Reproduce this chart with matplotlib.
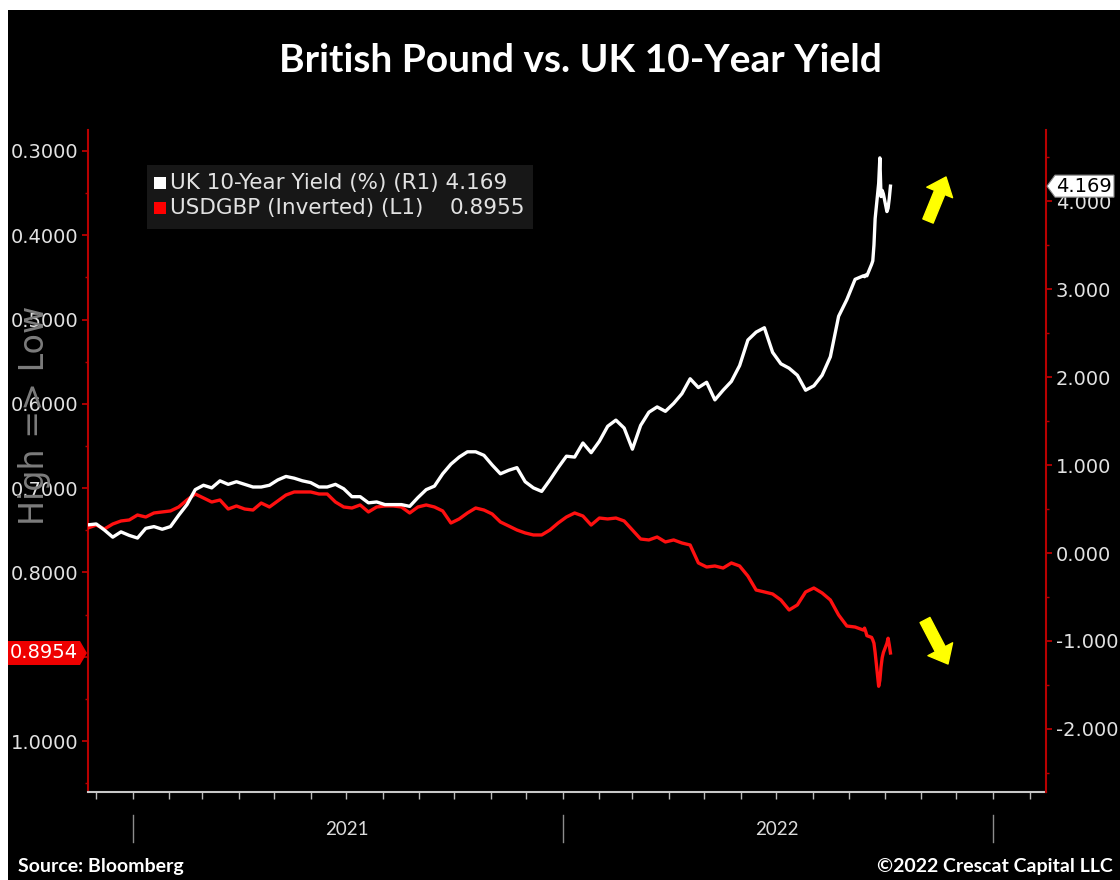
import pandas as pd
import matplotlib
matplotlib.use("Agg")
import matplotlib.pyplot as plt
import matplotlib.dates as mdates
from matplotlib.patches import Polygon, Rectangle
from matplotlib.ticker import MultipleLocator, FuncFormatter

# ---------------------------------------------------------------------------
# Data: weekly closes (Tuesdays) from late Nov 2020 to mid Sep 2022
# ---------------------------------------------------------------------------
weekly_dates = pd.date_range("2020-11-24", periods=95, freq="7D")

uk10y_weekly = [
    0.32, 0.33, 0.26, 0.18, 0.24, 0.20, 0.17, 0.28, 0.30, 0.27,
    0.30, 0.43, 0.55, 0.72, 0.77, 0.74, 0.82, 0.78, 0.81, 0.78,
    0.75, 0.75, 0.77, 0.83, 0.87, 0.85, 0.82, 0.80, 0.75, 0.75,
    0.78, 0.73, 0.64, 0.64, 0.57, 0.58, 0.55, 0.55, 0.55, 0.53,
    0.63, 0.72, 0.76, 0.90, 1.01, 1.09, 1.15, 1.15, 1.11, 1.00,
    0.90, 0.94, 0.97, 0.81, 0.74, 0.70, 0.83, 0.97, 1.10, 1.09,
    1.25, 1.14, 1.27, 1.44, 1.51, 1.42, 1.18, 1.45, 1.60, 1.66,
    1.61, 1.70, 1.81, 1.98, 1.88, 1.94, 1.74, 1.85, 1.95, 2.13,
    2.42, 2.51, 2.56, 2.28, 2.15, 2.10, 2.02, 1.85, 1.90, 2.02,
    2.23, 2.69, 2.88, 3.11, 3.15,
]

usdgbp_weekly = [
    0.7472, 0.7437, 0.7484, 0.7425, 0.7389, 0.7377, 0.7318, 0.7342, 0.7294, 0.7282,
    0.7270, 0.7223, 0.7140, 0.7069, 0.7116, 0.7164, 0.7140, 0.7247, 0.7211, 0.7247,
    0.7259, 0.7176, 0.7223, 0.7152, 0.7081, 0.7045, 0.7045, 0.7045, 0.7069, 0.7069,
    0.7164, 0.7223, 0.7235, 0.7199, 0.7282, 0.7223, 0.7211, 0.7211, 0.7223, 0.7294,
    0.7223, 0.7199, 0.7223, 0.7270, 0.7413, 0.7365, 0.7294, 0.7235, 0.7259, 0.7306,
    0.7401, 0.7448, 0.7496, 0.7531, 0.7555, 0.7555, 0.7496, 0.7413, 0.7342, 0.7294,
    0.7330, 0.7437, 0.7354, 0.7365, 0.7354, 0.7389, 0.7496, 0.7603, 0.7614, 0.7579,
    0.7638, 0.7614, 0.7650, 0.7674, 0.7887, 0.7935, 0.7923, 0.7947, 0.7887, 0.7923,
    0.8042, 0.8208, 0.8231, 0.8255, 0.8326, 0.8445, 0.8385, 0.8231, 0.8184, 0.8243,
    0.8326, 0.8504, 0.8635, 0.8647, 0.8683,
]

# Daily closes through the gilt sell-off
daily_dates = pd.to_datetime([
    "2022-09-14", "2022-09-15", "2022-09-16", "2022-09-20", "2022-09-21",
    "2022-09-22", "2022-09-23", "2022-09-26", "2022-09-27", "2022-09-28",
    "2022-09-29", "2022-09-30", "2022-10-03", "2022-10-04", "2022-10-05",
    "2022-10-06",
])
uk10y_daily = [3.14, 3.16, 3.15, 3.28, 3.32, 3.50, 3.80, 4.20, 4.49, 4.05,
               4.12, 4.08, 3.88, 3.92, 4.03, 4.169]
usdgbp_daily = [0.866, 0.870, 0.875, 0.877, 0.880, 0.884, 0.895, 0.935, 0.928,
                0.912, 0.901, 0.895, 0.884, 0.878, 0.886, 0.8955]

dates = list(weekly_dates) + list(daily_dates)
uk10y = uk10y_weekly + uk10y_daily
usdgbp = usdgbp_weekly + usdgbp_daily

title = "British Pound vs. UK 10-Year Yield"
yield_name = "UK 10-Year Yield (%) (R1)"
fx_name = "USDGBP (Inverted) (L1)"
fx_tag_text = "0.8954"
years = [2021, 2022]

# ---------------------------------------------------------------------------
W, H = 1120, 880
fig = plt.figure(figsize=(W / 100, H / 100), dpi=100, facecolor="black")


def fx(px):
    return px / W


def fy(py):
    return 1 - py / H


RED_AXIS = "#b80000"
LABEL = "#e2e2e2"
TICK_FS = 14

ax = fig.add_axes([fx(88), fy(792), fx(1046) - fx(88), fy(130) - fy(792)])
ax.set_facecolor("black")
ax2 = ax.twinx()
ax2.patch.set_visible(False)

ax.plot(dates, usdgbp, color="#ff1010", lw=2.4, solid_joinstyle="round", zorder=3)
ax2.plot(dates, uk10y, color="white", lw=2.4, solid_joinstyle="round", zorder=3)

ax.set_xlim(pd.Timestamp("2020-11-24"), pd.Timestamp("2023-02-15"))
ax.set_ylim(1.0604, 0.2751)          # inverted: strong pound at the bottom
ax2.set_ylim(-2.716, 4.807)


# the last-value tag sits over the nearest left label, so that label is left out
def left_fmt(v, pos):
    if abs(v - usdgbp[-1]) < 0.02:
        return ""
    return f"{v:.4f}"


ax.yaxis.set_major_locator(MultipleLocator(0.1))
ax.yaxis.set_minor_locator(MultipleLocator(0.05))
ax.yaxis.set_major_formatter(FuncFormatter(left_fmt))
ax.tick_params(axis="y", which="major", length=4, width=1.3, color=RED_AXIS,
               labelcolor=LABEL, labelsize=TICK_FS, pad=3)
ax.tick_params(axis="y", which="minor", length=2.5, width=1.0, color=RED_AXIS)

ax2.yaxis.set_major_locator(MultipleLocator(1.0))
ax2.yaxis.set_minor_locator(MultipleLocator(0.5))
ax2.yaxis.set_major_formatter(FuncFormatter(lambda v, p: f"{v:.3f}"))
ax2.tick_params(axis="y", which="major", length=4, width=1.3, color=RED_AXIS,
                labelcolor=LABEL, labelsize=TICK_FS, pad=3)
ax2.tick_params(axis="y", which="minor", length=2.5, width=1.0, color=RED_AXIS)

# monthly ticks on the date axis
ax.xaxis.set_major_locator(mdates.MonthLocator())
ax.xaxis.set_major_formatter(plt.NullFormatter())
ax.tick_params(axis="x", which="major", length=5, width=1.0, color="#bbbbbb")
ax2.tick_params(axis="x", which="both", length=0)

for s in ("top", "right"):
    ax.spines[s].set_visible(False)
for s in ("top", "left", "bottom"):
    ax2.spines[s].set_visible(False)
ax.spines["left"].set_color(RED_AXIS)
ax.spines["left"].set_linewidth(1.5)
ax2.spines["right"].set_color(RED_AXIS)
ax2.spines["right"].set_linewidth(1.5)
ax.spines["bottom"].set_color("#c8c8c8")
ax.spines["bottom"].set_linewidth(1.5)

# year separators and labels
xt = ax.get_xaxis_transform()
for yr in years + [years[-1] + 1]:
    d = pd.Timestamp(f"{yr}-01-01")
    ax.plot([d, d], [-0.035, -0.076], transform=xt, color="#8c8c8c", lw=1.0,
            clip_on=False)
for yr in years:
    ax.text(pd.Timestamp(f"{yr}-07-02"), -0.057, str(yr), transform=xt,
            ha="center", va="center", color="#dcdcdc", fontsize=13.5,
            family="Lato")

# side caption
fig.text(fx(35), fy(415), "High => Low", rotation=90, color="#7c7c7c",
         fontsize=24, ha="center", va="center")

# title and footer
fig.text(fx(580), fy(60), title, color="white", fontsize=28, fontweight="bold",
         family="Lato", ha="center", va="center")
fig.text(fx(18), fy(866), "Source: Bloomberg", color="white", fontsize=14,
         fontweight="bold", family="Lato", ha="left", va="center")
fig.text(fx(1113), fy(866), "\u00a92022 Crescat Capital LLC", color="white",
         fontsize=14, fontweight="bold", family="Lato", ha="right", va="center")

# legend panel
fig.patches.append(Rectangle((fx(147), fy(229)), fx(533) - fx(147),
                             fy(165) - fy(229), transform=fig.transFigure,
                             facecolor="#171717", edgecolor="none", zorder=3))
rows = [
    (183, "white", f"{yield_name} {uk10y[-1]:.3f}", None),
    (208, "#ff0000", fx_name, f"{usdgbp[-1]:.4f}"),
]
for py, col, txt, val in rows:
    fig.patches.append(Rectangle((fx(154), fy(py + 6)), fx(12), 12 / H,
                                 transform=fig.transFigure, facecolor=col,
                                 edgecolor="none", zorder=4))
    fig.text(fx(170), fy(py), txt, color=LABEL, fontsize=15.5, ha="left",
             va="center", zorder=5)
    if val is not None:
        fig.text(fx(525), fy(py), val, color=LABEL, fontsize=15.5, ha="right",
                 va="center", zorder=5)

# last-value tags on both axes
yr_px = H - ax2.transData.transform((0, uk10y[-1]))[1]
yl_px = H - ax.transData.transform((0, usdgbp[-1]))[1]

tag_r = [(1047, yr_px), (1055, yr_px - 11), (1114, yr_px - 11),
         (1114, yr_px + 11), (1055, yr_px + 11)]
fig.patches.append(Polygon([(fx(x), fy(y)) for x, y in tag_r], closed=True,
                           transform=fig.transFigure, facecolor="white",
                           edgecolor="#888888", lw=0.8, zorder=6))
fig.text(fx(1084), fy(yr_px), f"{uk10y[-1]:.3f}", color="black",
         fontsize=TICK_FS, ha="center", va="center", zorder=7)

tag_l = [(87, yl_px), (80, yl_px - 12), (8, yl_px - 12), (8, yl_px + 12),
         (80, yl_px + 12)]
fig.patches.append(Polygon([(fx(x), fy(y)) for x, y in tag_l], closed=True,
                           transform=fig.transFigure, facecolor="#ee0000",
                           edgecolor="none", zorder=6))
fig.text(fx(44), fy(yl_px), fx_tag_text, color="white", fontsize=TICK_FS,
         ha="center", va="center", zorder=7)

# direction arrows
arrow_style = "simple,head_length=1.2,head_width=2.0,tail_width=0.8"
for tail, tip in (((928, 221), (946, 177)), ((925, 620), (948, 664))):
    ax.annotate("", xy=(tip[0], H - tip[1]), xytext=(tail[0], H - tail[1]),
                xycoords="figure pixels", textcoords="figure pixels",
                arrowprops=dict(arrowstyle=arrow_style, color="#ffff00",
                                shrinkA=0, shrinkB=0, mutation_scale=10))

# white frame strips along the top and left edges
fig.patches.append(Rectangle((0, 0), fx(8), 1, transform=fig.transFigure,
                             facecolor="white", edgecolor="none", zorder=10))
fig.patches.append(Rectangle((0, fy(10)), 1, 10 / H, transform=fig.transFigure,
                             facecolor="white", edgecolor="none", zorder=10))

fig.savefig("out.png", dpi=100, facecolor="black")
